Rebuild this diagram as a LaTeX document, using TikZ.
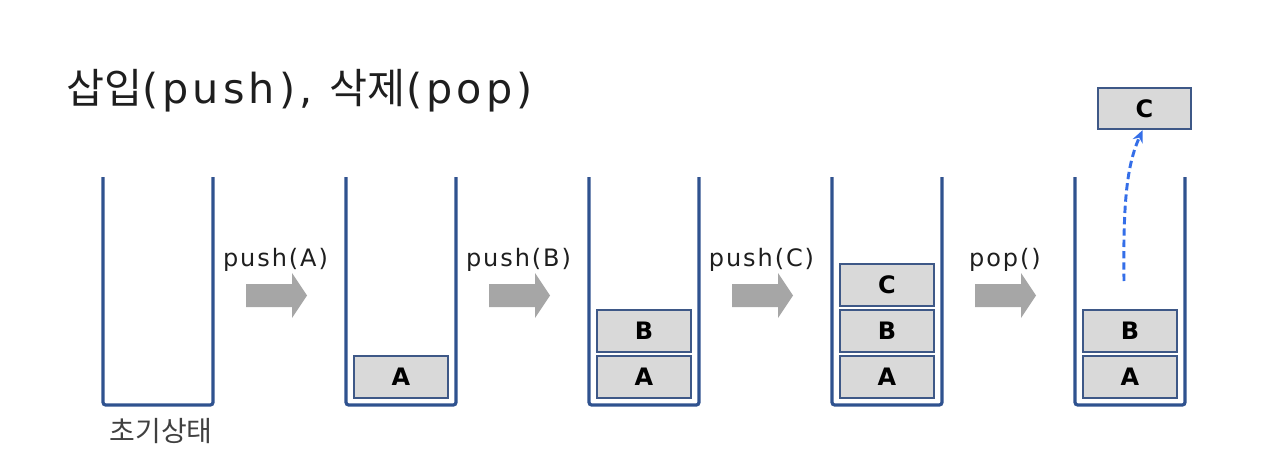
\documentclass[tikz,border=0pt]{standalone}
\usepackage{fontspec}
\usetikzlibrary{arrows.meta}
\newfontfamily\krfont{Noto Sans CJK KR}
\newfontfamily\latfont{DejaVu Sans}
\newfontfamily\titlefont[LetterSpace=10]{DejaVu Sans}
\newfontfamily\opfont[LetterSpace=8]{DejaVu Sans}
\definecolor{stackblue}{RGB}{47,82,143}
\definecolor{itemedge}{RGB}{62,88,135}
\definecolor{itemgray}{RGB}{217,217,217}
\definecolor{arrowgray}{RGB}{166,166,166}
\definecolor{popblue}{RGB}{52,110,232}
\definecolor{textdark}{RGB}{30,30,30}
\definecolor{textgray}{RGB}{64,64,64}
\begin{document}
\begin{tikzpicture}[x=0.75pt, y=-0.75pt,
	stackline/.style={draw=stackblue, line width=2.4pt, rounded corners=2pt},
	item/.style={draw=itemedge, fill=itemgray, line width=1.6pt, minimum width=70pt, minimum height=31pt, inner sep=0pt, font=\latfont\bfseries\fontsize{18}{18}\selectfont, text=black},
	oplabel/.style={anchor=base, inner sep=0pt, font=\opfont\fontsize{18}{18}\selectfont, text=textdark},
	shiftarrow/.style={fill=arrowgray},
	poppath/.style={draw=popblue, line width=2.2pt, dash pattern=on 5.5pt off 3pt, -{Stealth[length=9pt,width=8pt]}}]

	\useasboundingbox (0,0) rectangle (1270,464);

	% title
	\node[anchor=base west, inner sep=0pt, text=textdark] (title) at (66,103)
		{\fontsize{31}{31}\selectfont\krfont 삽입\titlefont(push), \krfont 삭제\titlefont(pop)};

	% stacks
	\foreach \i in {0,...,4}
	{
		\pgfmathsetmacro\xl{103+243*\i}
		\draw[stackline] (\xl,177) -- (\xl,405) -- (\xl+110,405) -- (\xl+110,177);
	}
	\node[inner sep=0pt, text=textgray, font=\krfont\fontsize{21}{21}\selectfont] (init) at (161,431) {초기상태};

	% operations
	\foreach \i in {0,...,3}
	{
		\pgfmathsetmacro\xa{246+243*\i}
		\fill[shiftarrow] (\xa,284) -- (\xa+46,284) -- (\xa+46,273) -- (\xa+61,295.5)
			-- (\xa+46,318) -- (\xa+46,307) -- (\xa,307) -- cycle;
	}
	\node[oplabel] (pushA) at (275.5,266) {push(A)};
	\node[oplabel] (pushB) at (518.5,266) {push(B)};
	\node[oplabel] (pushC) at (761.5,266) {push(C)};
	\node[oplabel] (pop) at (1005,266) {pop()};

	% stack contents
	\node[item] (a1) at (401,377) {A};
	\node[item] (a2) at (644,377) {A};
	\node[item] (b2) at (644,331) {B};
	\node[item] (a3) at (887,377) {A};
	\node[item] (b3) at (887,331) {B};
	\node[item] (c3) at (887,285) {C};
	\node[item] (a4) at (1130,377) {A};
	\node[item] (b4) at (1130,331) {B};
	\node[item] (c4) at (1144.5,108.5) {C};

	\coordinate (popfrom) at (1124,281);
	\draw[poppath] (popfrom) .. controls (1123,200) and (1127,165) .. ([xshift=-1.5pt]c4.south);
\end{tikzpicture}
\end{document}
